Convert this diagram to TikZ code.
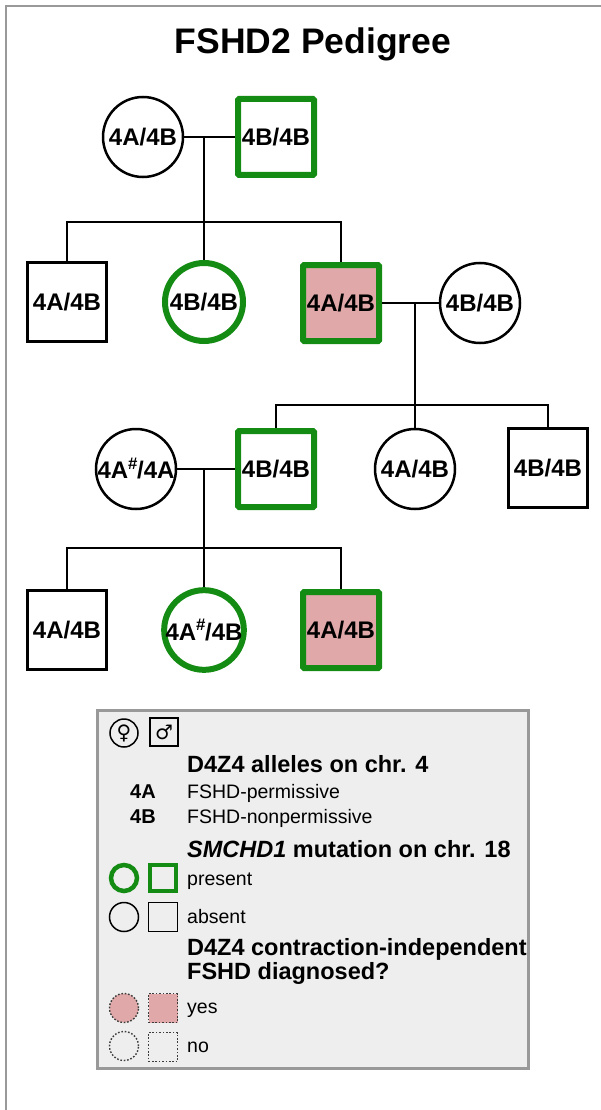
\documentclass[tikz,border=0pt]{standalone}
\usepackage{fontspec}
\setmainfont{Liberation Sans}
\newfontfamily\symfont{DejaVu Sans}
\definecolor{pgreen}{RGB}{20,140,20}
\definecolor{ppink}{RGB}{224,168,168}
\definecolor{framegray}{RGB}{153,153,153}
\definecolor{legbg}{RGB}{238,238,238}
\definecolor{dotgray}{RGB}{60,60,60}
\begin{document}
\begin{tikzpicture}[x=1pt,y=-1pt,
  lbl/.style={font=\fontsize{24}{24}\selectfont\bfseries, inner sep=0pt},
  fem/.style={circle, draw=black, line width=2.5pt, minimum size=80pt, lbl},
  femg/.style={circle, draw=pgreen, line width=6pt, minimum size=78pt, lbl},
  mal/.style={rectangle, draw=black, line width=2.5pt, minimum size=79pt, lbl},
  malg/.style={rectangle, draw=pgreen, line width=6pt, minimum size=76pt, lbl, rounded corners=1pt},
  aff/.style={fill=ppink},
  conn/.style={draw=black, line width=2.8pt},
  head/.style={anchor=base west, inner sep=0pt, font=\fontsize{23.5}{23.5}\selectfont\bfseries},
  body/.style={anchor=base west, inner sep=0pt, font=\fontsize{19.5}{19.5}\selectfont},
  allele/.style={anchor=base west, inner sep=0pt, font=\fontsize{20}{20}\selectfont\bfseries},
  lfem/.style={circle, minimum size=28pt, inner sep=0pt},
  lmal/.style={rectangle, minimum size=28pt, inner sep=0pt},
  dotline/.style={draw=dotgray, line width=1.4pt, dash pattern=on 1.6pt off 1.8pt},
]
\useasboundingbox (0,0) rectangle (601,1110);
% outer frame (top and left visible)
\draw[framegray, line width=2.5pt] (6,1110) -- (6,6) -- (601,6);
% title
\node[anchor=base, inner sep=0pt, font=\fontsize{35.5}{35.5}\selectfont\bfseries] (title) at (313,54) {FSHD2 Pedigree};

% generation I
\node[fem] (I1) at (143,137) {4A/4B};
\node[malg] (I2) at (276,137) {4B/4B};
\coordinate (j1) at (204,137);
\coordinate (s1) at (204,222);
% generation II
\node[mal] (II1) at (67,302) {4A/4B};
\node[femg] (II2) at (204,302) {4B/4B};
\node[malg, aff] (II3) at (341,303) {4A/4B};
\node[fem] (II4) at (480,303) {4B/4B};
\coordinate (j2) at (415,303);
\coordinate (s2) at (415,405);
% generation III
\node[fem] (III1) at (136,469) {4A\textsuperscript{\#}\kern-1pt/4A};
\node[malg] (III2) at (276,469) {4B/4B};
\node[fem] (III3) at (415,469) {4A/4B};
\node[mal] (III4) at (548,468) {4B/4B};
\coordinate (j3) at (204,469);
\coordinate (s3) at (204,548);
% generation IV
\node[mal] (IV1) at (67,630) {4A/4B};
\node[femg] (IV2) at (204,630) {4A\textsuperscript{\#}\kern-1pt/4B};
\node[malg, aff] (IV3) at (341,630) {4A/4B};

% connectors
\draw[conn] (I1.east) -- (I2.west);
\draw[conn] (j1) -- (II2.north);
\draw[conn] (II1.north) |- (s1) -| (II3.north);
\draw[conn] (II3.east) -- (II4.west);
\draw[conn] (j2) -- (III3.north);
\draw[conn] (III2.north) |- (s2) -| (III4.north);
\draw[conn] (III1.east) -- (III2.west);
\draw[conn] (j3) -- (IV2.north);
\draw[conn] (IV1.north) |- (s3) -| (IV3.north);

% legend
\node[draw=framegray, fill=legbg, line width=3pt, minimum width=431pt, minimum height=358pt, inner sep=0pt] (legend) at (312.5,889) {};
\node[lfem, draw=black, line width=1.5pt] (lf) at (124,733) {\symfont\fontsize{20}{20}\selectfont ♀};
\node[lmal, draw=black, line width=1.5pt] (lm) at (164,732) {\symfont\fontsize{20}{20}\selectfont ♂};
\node[head] (h1) at (187,772) {D4Z4 alleles on chr. 4};
\node[allele] (a1) at (130,798) {4A};
\node[body] (t1) at (187,798) {FSHD-permissive};
\node[allele] (a2) at (130,823) {4B};
\node[body] (t2) at (187,823) {FSHD-nonpermissive};
\node[head] (h2) at (187,857) {\textit{SMCHD1} mutation on chr. 18};
\node[lfem, draw=pgreen, line width=4.5pt, minimum size=26pt] (pc) at (124,878) {};
\node[lmal, draw=pgreen, line width=4pt, minimum size=26pt] (ps) at (163,878) {};
\node[body] (t3) at (187,885) {present};
\node[lfem, draw=black, line width=1.5pt, minimum size=29pt] (ac) at (124,917) {};
\node[lmal, draw=black, line width=1.5pt, minimum size=29pt] (as) at (163,917) {};
\node[body] (t4) at (187,923) {absent};
\node[head] (h3) at (187,955) {D4Z4 contraction-independent};
\node[head] (h4) at (187,979) {FSHD diagnosed?};
\node[lfem, dotline, fill=ppink, minimum size=29pt] (yc) at (124,1008) {};
\node[lmal, dotline, fill=ppink, minimum size=29pt] (ys) at (163,1008) {};
\node[body] (t5) at (187,1013) {yes};
\node[lfem, dotline, minimum size=29pt] (nc) at (124,1046) {};
\node[lmal, dotline, minimum size=29pt] (ns) at (163,1047) {};
\node[body] (t6) at (187,1052) {no};
\end{tikzpicture}
\end{document}
